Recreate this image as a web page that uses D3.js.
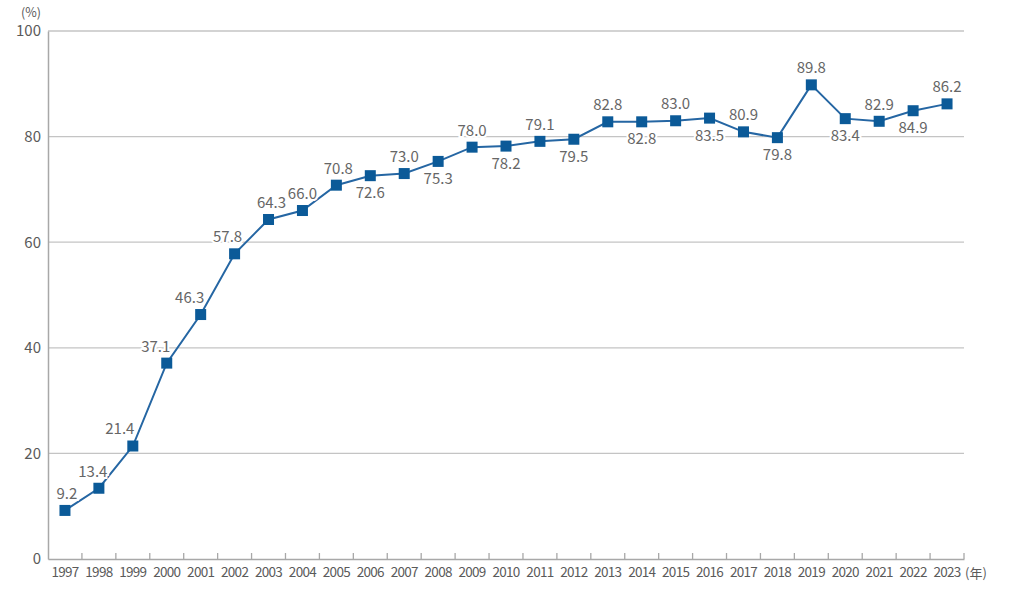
<!DOCTYPE html>
<html><head><meta charset="utf-8">
<script src="https://cdn.jsdelivr.net/npm/d3@7"></script>
<style>
html,body{margin:0;padding:0;background:#fff;}
text{font-family:"Noto Sans CJK JP","Noto Sans",sans-serif;}
</style></head>
<body><svg id="chart" width="1024" height="592"></svg>
<script>
const years = ["1997","1998","1999","2000","2001","2002","2003","2004","2005","2006","2007","2008","2009","2010","2011","2012","2013","2014","2015","2016","2017","2018","2019","2020","2021","2022","2023"];
const values = [9.2,13.4,21.4,37.1,46.3,57.8,64.3,66.0,70.8,72.6,73.0,75.3,78.0,78.2,79.1,79.5,82.8,82.8,83.0,83.5,80.9,79.8,89.8,83.4,82.9,84.9,86.2];
const labelSide = ["up","up","up","up","up","up","up","up","up","down","up","down","up","down","up","down","up","down","up","down","up","down","up","down","up","down","up"];
const labelShift = [2,-6,-13,-11,-11,-7,3,0,2,0,0,0,0,0,0,0,0,0,0,0,0,0,0,0,0,0,0];
const yTicks = [0,20,40,60,80,100];

const svg = d3.select("#chart");
const L = 48, R = 964, T = 31, B = 559;
const x = d3.scaleBand().domain(years).range([L, R]).padding(0);
const y = d3.scaleLinear().domain([0,100]).range([B, T]);

// gridlines
svg.append("g").selectAll("line").data(yTicks.filter(d=>d>0)).join("line")
  .attr("x1", L).attr("x2", R).attr("y1", d=>y(d)).attr("y2", d=>y(d))
  .attr("stroke", "#c4c4c4").attr("stroke-width", 1.3);

// y axis
const yAxis = svg.append("g").attr("transform", `translate(${L},0)`)
  .call(d3.axisLeft(y).tickValues(yTicks).tickSize(0).tickPadding(7));
yAxis.select(".domain").attr("stroke", "#a8a8a8").attr("stroke-width", 1.5);
yAxis.selectAll("text").attr("font-size", 15).attr("fill", "#5a5a5a").attr("font-family", '"Noto Sans CJK JP",sans-serif');

// x axis
const xAxis = svg.append("g").attr("transform", `translate(0,${B})`)
  .call(d3.axisBottom(x).tickSize(0).tickPadding(8));
xAxis.select(".domain").attr("stroke", "#a8a8a8").attr("stroke-width", 1.5);
xAxis.selectAll("text").attr("font-size", 13.5).attr("fill", "#5a5a5a").attr("letter-spacing", "-0.7px").attr("font-family", '"Noto Sans CJK JP",sans-serif');
// boundary ticks pointing up
svg.append("g").selectAll("line").data(years.slice(1).concat(["end"])).join("line")
  .attr("x1", d=> d==="end" ? R : x(d)).attr("x2", d=> d==="end" ? R : x(d))
  .attr("y1", B).attr("y2", B-6).attr("stroke", "#a8a8a8").attr("stroke-width", 1.3);

// unit labels
svg.append("text").attr("x", 31).attr("y", 17).attr("text-anchor","middle")
  .attr("font-size", 12.5).attr("fill", "#5a5a5a").text("(%)");
svg.append("text").attr("x", 965).attr("y", 578)
  .attr("font-size", 13).attr("fill", "#5a5a5a").text("(年)");

// line
const pts = years.map((yr,i)=>({yr, v: values[i], side: labelSide[i], dx: labelShift[i]}));
svg.append("path").datum(pts)
  .attr("d", d3.line().x(d=>x(d.yr)+x.bandwidth()/2).y(d=>y(d.v)))
  .attr("fill","none").attr("stroke","#2566a3").attr("stroke-width",2);

// markers
svg.append("g").selectAll("rect").data(pts).join("rect")
  .attr("x", d=>x(d.yr)+x.bandwidth()/2-5.5).attr("y", d=>y(d.v)-5.5)
  .attr("width", 11).attr("height", 11).attr("fill", "#0b5a98");

// value labels
svg.append("g").selectAll("text").data(pts).join("text")
  .attr("x", d=>x(d.yr)+x.bandwidth()/2 + d.dx)
  .attr("y", d=>y(d.v) + (d.side==="up" ? -17 : 17))
  .attr("dy", "0.36em")
  .attr("text-anchor","middle").attr("font-size", 15).attr("fill","#666")
  .attr("stroke","#fff").attr("stroke-width",4).attr("paint-order","stroke")
  .text(d=>d.v.toFixed(1));
</script></body></html>
